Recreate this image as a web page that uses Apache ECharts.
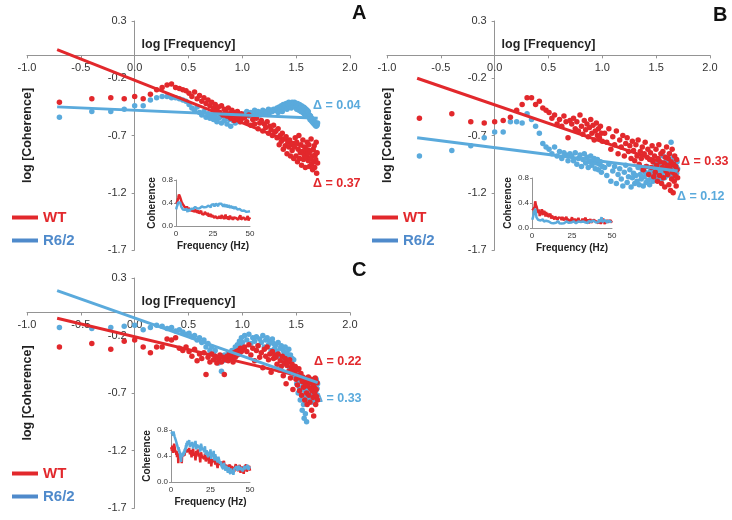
<!DOCTYPE html>
<html>
<head>
<meta charset="utf-8">
<style>
  html, body { margin: 0; padding: 0; background: #fff; }
  #chart { width: 732px; height: 520px; }
</style>
<script src="https://cdn.jsdelivr.net/npm/echarts@6.0.0/dist/echarts.min.js"></script>
</head>
<body>
<div id="chart"></div>
<script>
// sampling frequencies (Hz) of the coherence spectra
const FREQ_HZ = [
  0.2, 0.4, 0.6, 0.8, 1.0, 1.2, 1.4, 1.6, 1.8, 2.0,
  2.2, 2.4, 2.6, 2.8, 3.0, 3.2, 3.4, 3.6, 3.8, 4.0,
  4.2, 4.4, 4.6, 4.8, 5.0, 5.2, 5.4, 5.6, 5.8, 6.0,
  6.2, 6.4, 6.6, 6.8, 7.0, 7.2, 7.4, 7.6, 7.8, 8.0,
  8.2, 8.4, 8.6, 8.8, 9.0, 9.2, 9.4, 9.6, 9.8, 10.0,
  10.5, 11, 11.5, 12, 12.5, 13, 13.5, 14, 14.5, 15,
  15.5, 16, 16.5, 17, 17.5, 18, 18.5, 19, 19.5, 20,
  20.5, 21, 21.5, 22, 22.5, 23, 23.5, 24, 24.5, 25,
  25.5, 26, 26.5, 27, 27.5, 28, 28.5, 29, 29.5, 30,
  30.5, 31, 31.5, 32, 32.5, 33, 33.5, 34, 34.5, 35,
  35.5, 36, 36.5, 37, 37.5, 38, 38.5, 39, 39.5, 40,
  40.5, 41, 41.5, 42, 42.5, 43, 43.5, 44, 44.5, 45,
  45.5, 46, 46.5, 47, 47.5, 48, 48.5, 49, 49.5, 50
];

// log10 coherence, one value per frequency above
const A_WT = [
  -0.41,-0.38,-0.37,-0.38,-0.36,-0.38,-0.34,-0.30,-0.28,-0.26,-0.25,-0.28,-0.29,-0.30,-0.31,
  -0.33,-0.36,-0.32,-0.38,-0.35,-0.40,-0.37,-0.42,-0.39,-0.44,
  -0.41,-0.46,-0.43,-0.48,-0.45,-0.50,-0.44,-0.52,-0.47,-0.49,-0.53,-0.46,-0.51,-0.55,-0.48,
  -0.52,-0.57,-0.50,-0.54,-0.49,-0.56,-0.53,-0.58,-0.51,-0.55,
  -0.54,-0.58,-0.52,-0.61,-0.56,-0.60,-0.55,-0.64,-0.59,-0.57,-0.66,-0.60,-0.63,-0.58,-0.68,-0.62,-0.65,-0.70,-0.61,-0.67,
  -0.66,-0.72,-0.64,-0.78,-0.70,-0.75,-0.68,-0.82,-0.73,-0.79,-0.71,-0.86,-0.76,-0.80,-0.74,-0.88,-0.78,-0.83,-0.77,-0.90,
  -0.80,-0.72,-0.88,-0.76,-0.93,-0.82,-0.70,-0.90,-0.85,-0.78,-0.96,-0.84,-0.74,-0.91,-0.87,-0.80,-0.98,-0.83,-0.89,-0.76,
  -0.86,-0.92,-0.78,-0.97,-0.84,-0.90,-0.73,-0.95,-0.88,-1.00,-0.82,-0.93,-0.79,-0.98,-0.87,-0.91,-0.76,-1.03,-0.85,-0.94
];
const A_R62 = [
  -0.54,-0.49,-0.49,-0.47,-0.44,-0.44,-0.39,-0.37,-0.36,-0.36,-0.37,-0.37,-0.38,-0.39,-0.40,
  -0.43,-0.46,-0.48,-0.45,-0.50,-0.52,-0.49,-0.54,-0.51,-0.55,
  -0.52,-0.56,-0.53,-0.58,-0.55,-0.54,-0.59,-0.52,-0.57,-0.55,-0.60,-0.53,-0.56,-0.62,-0.54,
  -0.57,-0.55,-0.59,-0.52,-0.56,-0.54,-0.58,-0.53,-0.55,-0.52,
  -0.51,-0.49,-0.53,-0.50,-0.52,-0.48,-0.51,-0.49,-0.52,-0.50,-0.48,-0.51,-0.49,-0.50,-0.47,-0.50,-0.48,-0.49,-0.47,-0.48,
  -0.48,-0.46,-0.50,-0.45,-0.47,-0.44,-0.49,-0.43,-0.46,-0.44,-0.42,-0.47,-0.43,-0.41,-0.45,-0.42,-0.46,-0.41,-0.44,-0.42,
  -0.41,-0.45,-0.42,-0.47,-0.42,-0.44,-0.48,-0.43,-0.46,-0.49,-0.44,-0.47,-0.50,-0.45,-0.51,-0.46,-0.52,-0.47,-0.53,-0.48,
  -0.51,-0.49,-0.54,-0.52,-0.56,-0.53,-0.57,-0.55,-0.58,-0.56,-0.59,-0.57,-0.60,-0.58,-0.61,-0.59,-0.62,-0.60,-0.61,-0.59
];
const B_WT = [
  -0.55,-0.51,-0.58,-0.59,-0.58,-0.57,-0.54,-0.48,-0.43,-0.37,-0.37,-0.43,-0.40,-0.46,-0.48,
  -0.50,-0.55,-0.52,-0.60,-0.56,-0.62,-0.53,-0.58,-0.72,-0.57,
  -0.60,-0.55,-0.64,-0.58,-0.66,-0.52,-0.62,-0.69,-0.57,-0.65,-0.60,-0.71,-0.63,-0.56,-0.68,
  -0.61,-0.74,-0.66,-0.59,-0.70,-0.64,-0.72,-0.62,-0.68,-0.75,
  -0.68,-0.76,-0.64,-0.82,-0.71,-0.78,-0.66,-0.86,-0.74,-0.80,-0.70,-0.88,-0.77,-0.72,-0.84,-0.79,-0.90,-0.75,-0.83,-0.92,
  -0.78,-0.88,-0.74,-0.95,-0.84,-0.90,-0.80,-1.00,-0.86,-0.76,-0.97,-0.89,-0.82,-1.04,-0.91,-0.85,-0.98,-0.79,-0.93,-1.06,
  -0.88,-1.02,-0.82,-0.96,-1.10,-0.90,-0.78,-1.05,-0.93,-0.86,-1.12,-0.98,-0.84,-1.07,-0.94,-1.15,-0.89,-1.01,-0.80,-0.97,
  -1.04,-0.90,-1.13,-0.86,-0.99,-1.18,-0.93,-1.08,-0.82,-1.02,-1.20,-0.95,-1.10,-0.88,-1.05,-0.97,-1.14,-0.91,-1.00,-1.07
];
const B_R62 = [
  -0.88,-0.83,-0.79,-0.72,-0.67,-0.67,-0.58,-0.58,-0.59,-0.51,-0.56,-0.62,-0.68,-0.77,-0.80,
  -0.82,-0.86,-0.80,-0.88,-0.84,-0.90,-0.85,-0.87,-0.92,-0.86,
  -0.88,-0.92,-0.85,-0.95,-0.90,-0.87,-0.97,-0.91,-0.86,-0.94,-0.89,-0.98,-0.93,-0.88,-0.96,
  -0.92,-0.90,-0.99,-0.94,-0.91,-1.00,-0.95,-0.93,-1.02,-0.97,
  -0.98,-1.05,-0.95,-1.10,-1.01,-0.97,-1.12,-1.04,-0.99,-1.08,-1.14,-1.02,-0.96,-1.11,-1.06,-1.00,-1.15,-1.07,-1.03,-1.12,
  -1.05,-1.10,-0.98,-1.13,-1.04,-1.08,-1.00,-1.14,-1.06,-1.02,-1.11,-0.97,-1.09,-1.03,-1.13,-1.01,-1.07,-0.99,-1.10,-1.04,
  -1.02,-0.95,-1.08,-0.98,-1.04,-0.92,-1.06,-1.00,-0.96,-1.09,-0.94,-1.03,-0.88,-1.01,-0.97,-1.07,-0.93,-1.00,-0.90,-1.05,
  -0.98,-0.92,-1.04,-0.86,-1.00,-0.95,-0.76,-1.02,-0.94,-1.06,-0.89,-0.99,-0.96,-1.08,-0.91,-1.01,-0.97,-1.03,-0.93,-0.99
];
const C_WT = [
  -0.30,-0.27,-0.32,-0.25,-0.24,-0.30,-0.35,-0.30,-0.30,-0.23,-0.24,-0.22,-0.31,-0.33,-0.30,
  -0.34,-0.38,-0.32,-0.42,-0.36,-0.40,-0.35,-0.54,-0.39,-0.43,
  -0.36,-0.41,-0.38,-0.44,-0.40,-0.37,-0.43,-0.39,-0.54,-0.41,-0.38,-0.42,-0.36,-0.40,-0.37,
  -0.43,-0.35,-0.39,-0.34,-0.37,-0.33,-0.36,-0.31,-0.34,-0.32,
  -0.30,-0.34,-0.28,-0.37,-0.31,-0.42,-0.33,-0.29,-0.39,-0.35,-0.48,-0.32,-0.38,-0.30,-0.41,-0.36,-0.52,-0.34,-0.40,-0.37,
  -0.39,-0.45,-0.36,-0.50,-0.42,-0.47,-0.38,-0.55,-0.44,-0.40,-0.62,-0.46,-0.43,-0.51,-0.41,-0.57,-0.48,-0.45,-0.67,-0.50,
  -0.52,-0.47,-0.58,-0.50,-0.63,-0.55,-0.49,-0.68,-0.57,-0.53,-0.72,-0.60,-0.56,-0.65,-0.59,-0.76,-0.62,-0.58,-0.70,-0.80,
  -0.64,-0.56,-0.72,-0.60,-0.78,-0.66,-0.58,-0.85,-0.68,-0.62,-0.74,-0.90,-0.65,-0.70,-0.57,-0.80,-0.67,-0.73,-0.61,-0.76
];
const C_R62 = [
  -0.13,-0.14,-0.13,-0.12,-0.11,-0.15,-0.13,-0.11,-0.12,-0.14,-0.13,-0.16,-0.15,-0.17,-0.19,
  -0.18,-0.21,-0.20,-0.24,-0.22,-0.26,-0.24,-0.30,-0.27,-0.33,
  -0.30,-0.36,-0.33,-0.40,-0.44,-0.38,-0.51,-0.42,-0.37,-0.41,-0.39,-0.35,-0.40,-0.36,-0.33,
  -0.38,-0.34,-0.30,-0.35,-0.28,-0.31,-0.25,-0.29,-0.22,-0.26,
  -0.20,-0.24,-0.19,-0.27,-0.22,-0.25,-0.21,-0.29,-0.23,-0.26,-0.20,-0.30,-0.24,-0.22,-0.28,-0.25,-0.33,-0.23,-0.27,-0.31,
  -0.28,-0.34,-0.26,-0.38,-0.31,-0.29,-0.42,-0.33,-0.36,-0.30,-0.45,-0.35,-0.39,-0.32,-0.48,-0.37,-0.43,-0.40,-0.52,-0.41,
  -0.47,-0.55,-0.50,-0.62,-0.58,-0.70,-0.53,-0.66,-0.76,-0.60,-0.72,-0.85,-0.64,-0.80,-0.92,-0.68,-0.88,-0.74,-0.95,-0.70,
  -0.66,-0.72,-0.62,-0.76,-0.68,-0.60,-0.74,-0.65,-0.70,-0.63,-0.78,-0.67,-0.61,-0.71,-0.64,-0.69,-0.58,-0.73,-0.66,-0.62
];

// regression lines, [log f, log coherence] end points
const FIT_A_WT = [[-0.72, 0.05], [1.7, -0.85]];
const FIT_A_R62 = [[-0.72, -0.45], [1.7, -0.55]];
const FIT_B_WT = [[-0.72, -0.20], [1.7, -0.98]];
const FIT_B_R62 = [[-0.72, -0.72], [1.7, -1.01]];
const FIT_C_WT = [[-0.72, -0.05], [1.7, -0.59]];
const FIT_C_R62 = [[-0.72, 0.19], [1.7, -0.61]];

const PANELS = ['A', 'B', 'C'];
const SLOPE_WT = ['Δ = 0.37', 'Δ = 0.33', 'Δ = 0.22'];
const SLOPE_R62 = ['Δ = 0.04', 'Δ = 0.12', 'Δ = 0.33'];

const X_MIN = -1, X_MAX = 2, Y_MIN = -1.7, Y_MAX = 0.3;

const RED = '#e2282c';
const BLUE = '#5aaadc';
const LEGEND_BLUE = '#4f8acb';
const AXIS_GREY = '#949494';
const FONT = '"Liberation Sans", Arial, sans-serif';

const chart = echarts.init(document.getElementById('chart'));

const logF = FREQ_HZ.map(f => Math.log10(f));
const toScatter = ys => logF.map((x, i) => [x, ys[i]]);
const toInset = ys => FREQ_HZ.map((f, i) => [f, Math.pow(10, ys[i])]);

const mainGrids = [
    {left: 27, top: 21, width: 323, height: 229},
    {left: 387, top: 21, width: 323, height: 229},
    {left: 27, top: 278, width: 323, height: 230}
];
const insetGrids = [
    {left: 176, top: 180, width: 74, height: 46},
    {left: 532, top: 178, width: 80, height: 50},
    {left: 171, top: 430, width: 79, height: 52}
];

const sets = [
    [A_WT, A_R62, FIT_A_WT, FIT_A_R62],
    [B_WT, B_R62, FIT_B_WT, FIT_B_R62],
    [C_WT, C_R62, FIT_C_WT, FIT_C_R62]
];

const xAxes = [];
const yAxes = [];
const series = [];

PANELS.forEach((p, i) => {
    const g = mainGrids[i];
    // axes cross at zero: move them inward from the grid edges
    const xOffset = -g.height * (0 - Y_MIN) / (Y_MAX - Y_MIN);
    const yOffset = -g.width * (0 - X_MIN) / (X_MAX - X_MIN);
    xAxes[i] = {
        gridIndex: i, type: 'value', min: X_MIN, max: X_MAX, interval: 0.5,
        position: 'bottom', offset: xOffset,
        name: 'log [Frequency]', nameLocation: 'middle', nameGap: -17,
        nameTextStyle: {fontFamily: FONT, fontWeight: 'bold', fontSize: 12.5, color: '#222'},
        axisLine: {onZero: false, lineStyle: {color: AXIS_GREY}},
        axisTick: {show: true, length: 3, lineStyle: {color: AXIS_GREY}},
        axisLabel: {fontFamily: FONT, fontSize: 11, color: '#333', margin: 7,
            formatter: v => v.toFixed(1)},
        splitLine: {show: false}
    };
    yAxes[i] = {
        gridIndex: i, type: 'value', min: Y_MIN, max: Y_MAX, interval: 0.5,
        position: 'left', offset: yOffset,
        name: 'log [Coherence]', nameLocation: 'middle', nameGap: 101,
        nameTextStyle: {fontFamily: FONT, fontWeight: 'bold', fontSize: 12.5, color: '#222'},
        axisLine: {onZero: false, lineStyle: {color: AXIS_GREY}},
        axisTick: {show: true, length: 3, lineStyle: {color: AXIS_GREY}},
        axisLabel: {fontFamily: FONT, fontSize: 11, color: '#333', margin: 8,
            formatter: v => v.toFixed(1)},
        splitLine: {show: false}
    };
    // inset axes
    xAxes[3 + i] = {
        gridIndex: 3 + i, type: 'value', min: 0, max: 50, interval: 25,
        name: 'Frequency (Hz)', nameLocation: 'middle', nameGap: 15,
        nameTextStyle: {fontFamily: FONT, fontWeight: 'bold', fontSize: 10, color: '#222'},
        axisLine: {onZero: false, lineStyle: {color: AXIS_GREY}},
        axisTick: {show: false},
        axisLabel: {fontFamily: FONT, fontSize: 8, color: '#333', margin: 4},
        splitLine: {show: false}
    };
    yAxes[3 + i] = {
        gridIndex: 3 + i, type: 'value', min: 0, max: 0.8, interval: 0.4,
        name: 'Coherence', nameLocation: 'middle', nameGap: 19,
        nameTextStyle: {fontFamily: FONT, fontWeight: 'bold', fontSize: 10, color: '#222'},
        axisLine: {onZero: false, lineStyle: {color: AXIS_GREY}},
        axisTick: {show: true, length: 2, lineStyle: {color: AXIS_GREY}},
        axisLabel: {fontFamily: FONT, fontSize: 8, color: '#333', margin: 3,
            formatter: v => v.toFixed(1)},
        splitLine: {show: false}
    };

    const [wt, r62, fitWt, fitR62] = sets[i];
    series.push(
        {type: 'scatter', name: 'R6/2', xAxisIndex: i, yAxisIndex: i, data: toScatter(r62),
            symbolSize: 5.5, itemStyle: {color: BLUE, opacity: 1}, z: 2, silent: true},
        {type: 'line', name: 'WT', xAxisIndex: i, yAxisIndex: i, data: fitWt,
            showSymbol: false, lineStyle: {color: RED, width: 3}, itemStyle: {color: RED}, z: 3, silent: true},
        {type: 'scatter', name: 'WT', xAxisIndex: i, yAxisIndex: i, data: toScatter(wt),
            symbolSize: 5.5, itemStyle: {color: RED, opacity: 1}, z: 4, silent: true},
        {type: 'line', name: 'R6/2', xAxisIndex: i, yAxisIndex: i, data: fitR62,
            showSymbol: false, lineStyle: {color: BLUE, width: 3}, itemStyle: {color: BLUE}, z: 5, silent: true},
        {type: 'line', name: 'WT', xAxisIndex: 3 + i, yAxisIndex: 3 + i, data: toInset(wt),
            showSymbol: false, lineStyle: {color: RED, width: 2.5}, itemStyle: {color: RED}, z: 4, silent: true},
        {type: 'line', name: 'R6/2', xAxisIndex: 3 + i, yAxisIndex: 3 + i, data: toInset(r62),
            showSymbol: false, lineStyle: {color: BLUE, width: 2.5}, itemStyle: {color: BLUE}, z: 5, silent: true}
    );
});

const legendPos = [[12, 210], [372, 210], [12, 466]];
const letterPos = [[352, 13], [713, 15], [352, 270]];
const slopeWtPos = [[313, 184], [681, 162], [314, 362]];
const slopeR62Pos = [[313, 106], [677, 197], [314, 399]];

const graphics = [];
PANELS.forEach((p, i) => {
    graphics.push(
        {type: 'text', x: letterPos[i][0], y: letterPos[i][1],
            style: {text: p, fill: '#111', font: 'bold 20px ' + FONT, verticalAlign: 'middle'}},
        {type: 'text', x: slopeWtPos[i][0], y: slopeWtPos[i][1],
            style: {text: SLOPE_WT[i], fill: RED, font: 'bold 12.5px ' + FONT, verticalAlign: 'middle'}},
        {type: 'text', x: slopeR62Pos[i][0], y: slopeR62Pos[i][1],
            style: {text: SLOPE_R62[i], fill: BLUE, font: 'bold 12.5px ' + FONT, verticalAlign: 'middle'}}
    );
});

const option = {
    animation: false,
    backgroundColor: '#fff',
    grid: mainGrids.concat(insetGrids).map(g => Object.assign({outerBoundsMode: 'none', containLabel: false}, g)),
    xAxis: xAxes,
    yAxis: yAxes,
    legend: legendPos.map(pos => ({
        left: pos[0], top: pos[1], orient: 'vertical', icon: 'rect', padding: 0,
        itemWidth: 26, itemHeight: 4, itemGap: 8, selectedMode: false,
        textStyle: {fontFamily: FONT, fontSize: 15, fontWeight: 'bold'},
        data: [
            {name: 'WT', itemStyle: {color: RED}, textStyle: {color: RED}},
            {name: 'R6/2', itemStyle: {color: LEGEND_BLUE}, textStyle: {color: LEGEND_BLUE}}
        ]
    })),
    graphic: graphics,
    series: series
};

chart.setOption(option);
</script>
</body>
</html>
